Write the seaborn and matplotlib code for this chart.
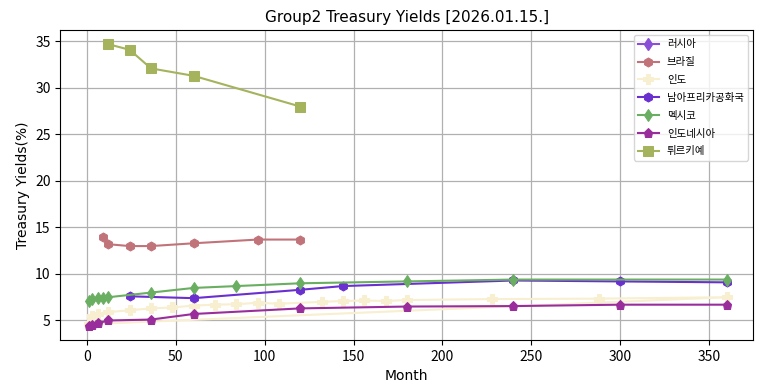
import matplotlib
matplotlib.use('Agg')
import matplotlib.pyplot as plt
import seaborn as sns
import pandas as pd

# 만기(개월)와 수익률(%)
russia_m = []
russia_y = []

brazil_m = [9, 12, 24, 36, 60, 96, 120]
brazil_y = [14.0, 13.2, 13.0, 13.0, 13.3, 13.7, 13.7]

india_m = [3, 6, 12, 24, 36, 48, 60, 72, 84, 96, 108, 132, 144, 156, 168, 180, 228, 288, 360, 1]
india_y = [5.5, 5.7, 5.9, 6.1, 6.3, 6.4, 6.6, 6.7, 6.75, 6.9, 6.8, 7.0, 7.1, 7.15, 7.1, 7.2, 7.3, 7.35, 7.5, 4.6]

safrica_m = [24, 60, 120, 144, 240, 300, 360]
safrica_y = [7.6, 7.4, 8.3, 8.7, 9.3, 9.2, 9.1]

mexico_m = [1, 3, 6, 9, 12, 36, 60, 84, 120, 180, 240, 360]
mexico_y = [7.1, 7.3, 7.4, 7.4, 7.5, 8.0, 8.5, 8.7, 9.0, 9.2, 9.4, 9.4]

indonesia_m = [1, 3, 6, 12, 36, 60, 120, 180, 240, 300, 360]
indonesia_y = [4.4, 4.5, 4.7, 5.0, 5.1, 5.7, 6.3, 6.5, 6.55, 6.7, 6.7]

turkey_m = [12, 24, 36, 60, 120]
turkey_y = [34.7, 34.1, 32.1, 31.3, 28.0]

series = [
    ('러시아', russia_m, russia_y, '#8a4fd6', 'd'),
    ('브라질', brazil_m, brazil_y, '#c1737a', 'h'),
    ('인도', india_m, india_y, '#f7efcf', 'P'),
    ('남아프리카공화국', safrica_m, safrica_y, '#6a2fcf', 'h'),
    ('멕시코', mexico_m, mexico_y, '#6aae62', 'd'),
    ('인도네시아', indonesia_m, indonesia_y, '#9a2d9c', 'p'),
    ('튀르키예', turkey_m, turkey_y, '#a4b35c', 's'),
]

plt.rcParams['font.family'] = ['Noto Sans CJK KR', 'DejaVu Sans']

fig, ax = plt.subplots(figsize=(7.64, 3.91), dpi=100)

for name, m, y, color, marker in series:
    if len(m) == 0:
        # 데이터 없는 국가는 범례에만 표시
        ax.plot([], [], color=color, marker=marker, markersize=6.5, linewidth=1.5, label=name)
        continue
    df = pd.DataFrame({'Month': m, 'Yield': y})
    sns.lineplot(data=df, x='Month', y='Yield', color=color, marker=marker,
                 markersize=6.5, markeredgecolor=color, linewidth=1.5,
                 sort=False, label=name, ax=ax)

ax.set_xlim(-15, 375)
ax.grid(True, color='#b0b0b0', linewidth=0.9)
ax.set_xlabel('Month', fontfamily='DejaVu Sans', fontsize=10)
ax.set_ylabel('Treasury Yields(%)', fontfamily='DejaVu Sans', fontsize=10)
ax.set_title('Group2 Treasury Yields [2026.01.15.]', fontfamily='DejaVu Sans', fontsize=11)
ax.legend(loc='upper right', fontsize=7.5, labelspacing=0.75)

fig.subplots_adjust(left=0.079, right=0.986, top=0.923, bottom=0.13)
fig.savefig('out.png', dpi=100)
